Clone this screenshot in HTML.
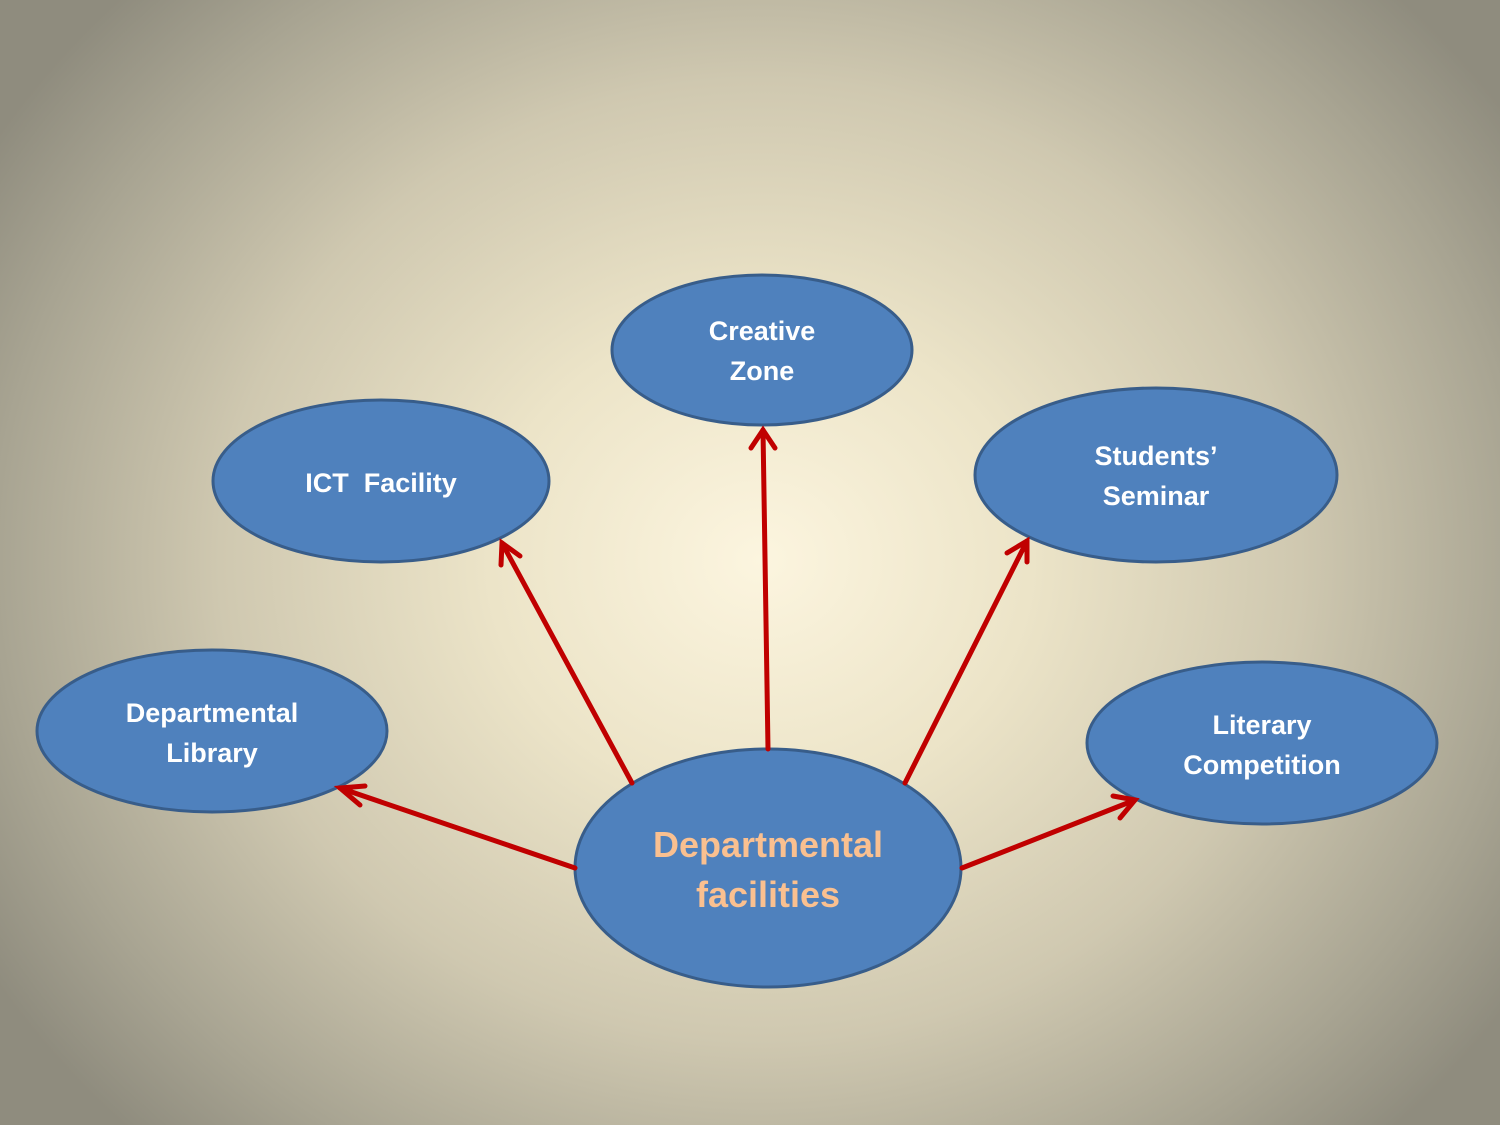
<!DOCTYPE html>
<html><head><meta charset="utf-8"><style>
html,body{margin:0;padding:0;width:1500px;height:1125px;overflow:hidden}
body{background:radial-gradient(ellipse 900px 800px at 760px 560px,#fcf5df 0%,#ece4c8 30%,#cfc8b0 60%,#a8a492 85%,#8f8c7e 100%)}
</style></head><body>
<svg width="1500" height="1125" xmlns="http://www.w3.org/2000/svg" style="position:absolute;left:0;top:0">
<g fill="#4f81bd" stroke="#385d8a" stroke-width="3">
<ellipse cx="762" cy="350" rx="150" ry="75"/>
<ellipse cx="381" cy="481" rx="168" ry="81"/>
<ellipse cx="1156" cy="475" rx="181" ry="87"/>
<ellipse cx="212" cy="731" rx="175" ry="81"/>
<ellipse cx="1262" cy="743" rx="175" ry="81"/>
<ellipse cx="768" cy="868" rx="193" ry="119"/>
</g>
<g stroke="#c00000" stroke-width="5" fill="none" stroke-linecap="round">
<line x1="768" y1="749" x2="763" y2="430"/><polyline points="751,448 763,430 775,448"/>
<line x1="632" y1="783" x2="502" y2="543"/><polyline points="501,565 502,543 520,556"/>
<line x1="905" y1="783" x2="1027" y2="541"/><polyline points="1007,553 1027,541 1027,562"/>
<line x1="575" y1="868" x2="340" y2="788"/><polyline points="360,805 340,788 365,786"/>
<line x1="962" y1="868" x2="1135" y2="800"/><polyline points="1113,796 1135,800 1120,818"/>
</g>
<g font-family="Liberation Sans, sans-serif" font-weight="bold" fill="#fff" font-size="27" text-anchor="middle">
<text x="762" y="340">Creative</text><text x="762" y="380">Zone</text>
<text x="381" y="492" xml:space="preserve" style="white-space:pre">ICT  Facility</text>
<text x="1156" y="465">Students’</text><text x="1156" y="505">Seminar</text>
<text x="212" y="722">Departmental</text><text x="212" y="762">Library</text>
<text x="1262" y="734">Literary</text><text x="1262" y="774">Competition</text>
<text x="768" y="857" fill="#fac090" font-size="36">Departmental</text>
<text x="768" y="907" fill="#fac090" font-size="36">facilities</text>
</g>
</svg>
</body></html>
